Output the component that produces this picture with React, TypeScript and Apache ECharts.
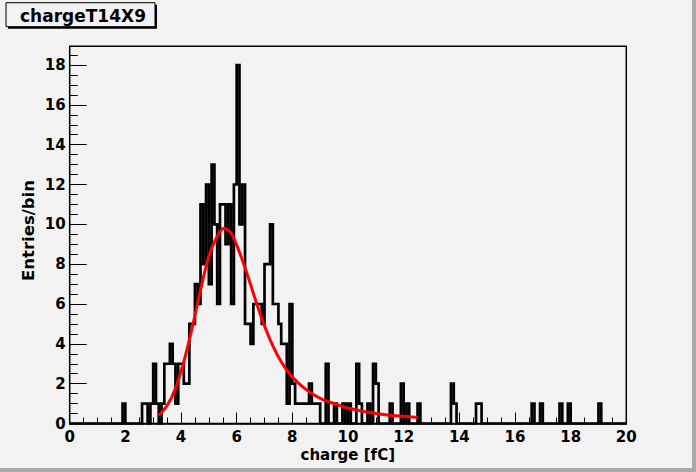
import React, { useEffect, useRef } from "react";
import * as echarts from "echarts";

// Histogram: lower edges (fC) of non-empty bins (bin width 0.1 fC) and their entries
const binLowEdges = [
  1.9, 2.6, 2.7, 2.9, 3.0, 3.1, 3.3, 3.4, 3.5, 3.6, 3.7, 3.8, 3.9, 4.0, 4.1, 4.2, 4.3, 4.4, 4.5, 4.6,
  4.7, 4.8, 4.9, 5.0, 5.1, 5.2, 5.3, 5.4, 5.5, 5.6, 5.7, 5.8, 5.9, 6.0, 6.1, 6.2, 6.3, 6.4, 6.5, 6.6,
  6.7, 6.8, 6.9, 7.0, 7.1, 7.2, 7.3, 7.4, 7.5, 7.6, 7.7, 7.8, 7.9, 8.0, 8.1, 8.2, 8.3, 8.4, 8.5, 8.6,
  8.7, 8.8, 8.9, 9.2, 9.5, 9.8, 10.0, 10.3, 10.4, 10.7, 10.9, 11.0, 11.5, 11.9, 12.1, 12.5, 13.7, 13.8,
  14.6, 14.7, 16.6, 16.9, 17.6, 17.9, 19.0,
];
const binCounts = [
  1, 1, 1, 1, 3, 1, 1, 3, 3, 4, 3, 1, 3, 3, 2, 2, 5, 5, 7, 6,
  11, 8, 12, 7, 13, 10, 6, 11, 11, 9, 11, 6, 12, 18, 10, 12, 5, 5, 4, 6,
  6, 6, 5, 8, 8, 10, 6, 6, 5, 4, 4, 1, 6, 2, 1, 1, 1, 1, 1, 2,
  1, 1, 1, 3, 1, 1, 1, 3, 1, 1, 3, 2, 1, 2, 1, 1, 2, 1,
  1, 1, 1, 1, 1, 1, 1,
];

// Fit curve
const fitX = [3.2, 3.5, 3.8, 4.1, 4.4, 4.7, 5.0, 5.3, 5.55, 5.8, 6.1, 6.4, 6.7, 7.0, 7.3, 7.6, 7.9, 8.2, 8.5, 8.8, 9.1, 9.5, 10.0, 10.5, 11.0, 11.5, 12.0, 12.5];
const fitY = [0.4, 0.9, 1.75, 3.1, 4.8, 6.7, 8.4, 9.4, 9.8, 9.55, 8.6, 7.4, 6.1, 4.9, 3.9, 3.1, 2.5, 2.05, 1.7, 1.42, 1.2, 1.0, 0.78, 0.62, 0.5, 0.42, 0.36, 0.3];

const yMajorTicks = [0, 2, 4, 6, 8, 10, 12, 14, 16, 18];
const yMinorTicks = [
  0.5, 1, 1.5, 2.5, 3, 3.5, 4.5, 5, 5.5, 6.5, 7, 7.5, 8.5, 9, 9.5, 10.5, 11, 11.5,
  12.5, 13, 13.5, 14.5, 15, 15.5, 16.5, 17, 17.5, 18.5,
];

const NBINS = 200;
const BIN_W = 0.1;
const FONT = '"DejaVu Sans", "Liberation Sans", sans-serif';
const BG = "#f2f2f2";

export default function App() {
  const ref = useRef<HTMLDivElement>(null);

  useEffect(() => {
    document.body.style.margin = "0";
    if (!ref.current) return;
    const chart = echarts.init(ref.current, undefined, { renderer: "svg" });

    const counts: number[] = new Array(NBINS).fill(0);
    binLowEdges.forEach((e, i) => {
      counts[Math.round(e / BIN_W)] = binCounts[i];
    });
    const histData: number[][] = counts.map((c, i) => [Math.round(i) / 10, c]);
    histData.push([20, counts[NBINS - 1]]);
    const fitData = fitX.map((x, i) => [x, fitY[i]]);

    const W = 696;
    const H = 472;

    chart.setOption({
      animation: false,
      backgroundColor: BG,
      grid: {
        left: 69.7,
        right: 69.7,
        top: 46.3,
        bottom: 48.5,
        show: true,
        borderColor: "#000",
        borderWidth: 1.5,
        backgroundColor: "transparent",
      },
      xAxis: {
        type: "value",
        min: 0,
        max: 20,
        interval: 2,
        axisLine: { show: true, onZero: false, lineStyle: { color: "#000", width: 1.5 } },
        axisTick: { show: true, inside: true, length: 11, lineStyle: { color: "#000", width: 1 } },
        minorTick: { show: true, splitNumber: 4, length: 6, lineStyle: { color: "#000", width: 1 } },
        splitLine: { show: false },
        axisLabel: { color: "#000", fontFamily: FONT, fontWeight: "bold", fontSize: 15, margin: 6 },
      },
      yAxis: [
        {
          type: "value",
          min: 0,
          max: 18.94,
          position: "left",
          axisLine: { show: true, onZero: false, lineStyle: { color: "#000", width: 1 } },
          axisTick: { show: true, inside: true, length: 17, customValues: yMajorTicks, lineStyle: { color: "#000", width: 1 } },
          splitLine: { show: false },
          axisLabel: {
            color: "#000",
            fontFamily: FONT,
            fontWeight: "bold",
            fontSize: 15,
            margin: 4,
            customValues: yMajorTicks,
          },
        },
        {
          type: "value",
          min: 0,
          max: 18.94,
          position: "left",
          offset: 0,
          axisLine: { show: false },
          axisTick: { show: true, inside: true, length: 8, customValues: yMinorTicks, lineStyle: { color: "#000", width: 1 } },
          splitLine: { show: false },
          axisLabel: { show: false },
        },
      ],
      series: [
        {
          type: "line",
          name: "hist",
          data: histData,
          step: "end",
          symbol: "none",
          lineStyle: { color: "#000", width: 2.7, join: "miter", cap: "butt" },
          z: 2,
        },
        {
          type: "line",
          name: "fit",
          data: fitData,
          smooth: 0.3,
          symbol: "none",
          lineStyle: { color: "#ff0000", width: 3 },
          z: 3,
        },
      ],
      graphic: [
        { type: "rect", shape: { x: 8, y: 4.7, width: 149, height: 24 }, style: { fill: "#000" }, silent: true },
        { type: "rect", shape: { x: 6, y: 2.7, width: 149, height: 24 }, style: { fill: BG, stroke: "#000", lineWidth: 1 }, silent: true },
        {
          type: "text",
          x: 83,
          y: 15.5,
          style: {
            text: "chargeT14X9",
            font: `bold 17px ${FONT}`,
            fill: "#000",
            textAlign: "center",
            textVerticalAlign: "middle",
            align: "center",
            verticalAlign: "middle",
          },
          silent: true,
        },
        {
          type: "text",
          x: 395,
          y: 455,
          style: {
            text: "charge [fC]",
            font: `bold 15px ${FONT}`,
            fill: "#000",
            textAlign: "right",
            textVerticalAlign: "middle",
            align: "right",
            verticalAlign: "middle",
          },
          silent: true,
        },
        {
          type: "text",
          x: 28,
          y: 230.5,
          rotation: Math.PI / 2,
          style: {
            text: "Entries/bin",
            font: `bold 16.5px ${FONT}`,
            fill: "#000",
            textAlign: "center",
            textVerticalAlign: "middle",
            align: "center",
            verticalAlign: "middle",
          },
          silent: true,
        },
        { type: "rect", shape: { x: 0, y: H - 4, width: W, height: 4 }, style: { fill: "#a8a8a8" }, silent: true },
        { type: "rect", shape: { x: W - 4, y: 0, width: 4, height: H }, style: { fill: "#a8a8a8" }, silent: true },
      ],
    });

    return () => {
      chart.dispose();
    };
  }, []);

  return <div ref={ref} style={{ width: 696, height: 472, background: BG }} />;
}
